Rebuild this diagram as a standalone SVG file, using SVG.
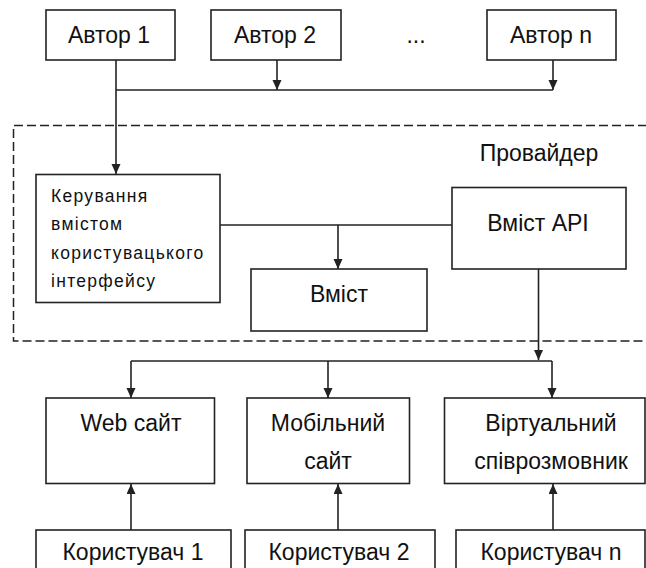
<svg xmlns="http://www.w3.org/2000/svg" width="646" height="568" viewBox="0 0 646 568">
<style>
.box{fill:#fff;stroke:#222;stroke-width:1.6}
.ln{fill:none;stroke:#222;stroke-width:1.6}
.ar{marker-end:url(#ah)}
.t{font-family:"Liberation Sans",Arial,sans-serif;font-size:23px;fill:#111;text-anchor:middle}
.s{font-family:"Liberation Sans",Arial,sans-serif;font-size:17.5px;fill:#111;letter-spacing:1.3px}
</style>
<defs>
<marker id="ah" markerWidth="11" markerHeight="11" refX="10" refY="4.5" orient="auto" markerUnits="userSpaceOnUse">
<path d="M0,0 L10,4.5 L0,9 Z" fill="#222"/>
</marker>
</defs>
<rect width="646" height="568" fill="#fff"/>
<g id="provider">
<path d="M660,125.5 H13.5 V341 H660" fill="none" stroke="#222" stroke-width="1.5" stroke-dasharray="9 4"/>
<text class="t" x="539" y="161">Провайдер</text>
</g>
<g id="connectors">
<path class="ln ar" d="M116,60 V174"/>
<path class="ln" d="M116,90 H553"/>
<path class="ln ar" d="M277,60 V90"/>
<path class="ln ar" d="M553,60 V90"/>
<path class="ln" d="M220,225 H452"/>
<path class="ln ar" d="M338,225 V269"/>
<path class="ln ar" d="M538.5,269 V360"/>
<path class="ln" d="M131,361 H552"/>
<path class="ln ar" d="M131,361 V398"/>
<path class="ln ar" d="M328,361 V398"/>
<path class="ln ar" d="M552,361 V398"/>
<path class="ln ar" d="M131,530 V484"/>
<path class="ln ar" d="M338,530 V484"/>
<path class="ln ar" d="M553,530 V484"/>
</g>
<g id="author1"><rect class="box" x="46" y="10" width="129" height="50"/><text class="t" x="109" y="43">Автор 1</text></g>
<g id="author2"><rect class="box" x="211" y="10" width="130" height="50"/><text class="t" x="275" y="43">Автор 2</text></g>
<text class="t" x="416" y="43">...</text>
<g id="authorN"><rect class="box" x="487" y="10" width="129" height="50"/><text class="t" x="551" y="43">Автор n</text></g>
<g id="ui-content-mgmt"><rect class="box" x="36" y="174.5" width="184" height="128"/>
<text class="s" x="51" y="202">Керування</text>
<text class="s" x="51" y="230">вмістом</text>
<text class="s" x="51" y="259">користувацького</text>
<text class="s" x="51" y="287">інтерфейсу</text>
</g>
<g id="content-api"><rect class="box" x="452" y="187.5" width="174" height="81.5"/><text class="t" x="538" y="231">Вміст API</text></g>
<g id="content"><rect class="box" x="251" y="269" width="176" height="62"/><text class="t" x="339" y="302">Вміст</text></g>
<g id="website"><rect class="box" x="46" y="398" width="168.5" height="85.5"/><text class="t" x="131" y="431">Web сайт</text></g>
<g id="mobile"><rect class="box" x="247" y="398" width="162.5" height="85.5"/><text class="t" x="328" y="431">Мобільний</text><text class="t" x="328" y="469">сайт</text></g>
<g id="virtual"><rect class="box" x="444.5" y="398" width="200.5" height="85.5"/><text class="t" x="551" y="431">Віртуальний</text><text class="t" x="551" y="469">співрозмовник</text></g>
<g id="user1"><rect class="box" x="36" y="530" width="195" height="50"/><text class="t" x="133" y="560">Користувач 1</text></g>
<g id="user2"><rect class="box" x="245" y="530" width="190" height="50"/><text class="t" x="339" y="560">Користувач 2</text></g>
<g id="userN"><rect class="box" x="456" y="530" width="189" height="50"/><text class="t" x="551" y="560">Користувач n</text></g>
</svg>
